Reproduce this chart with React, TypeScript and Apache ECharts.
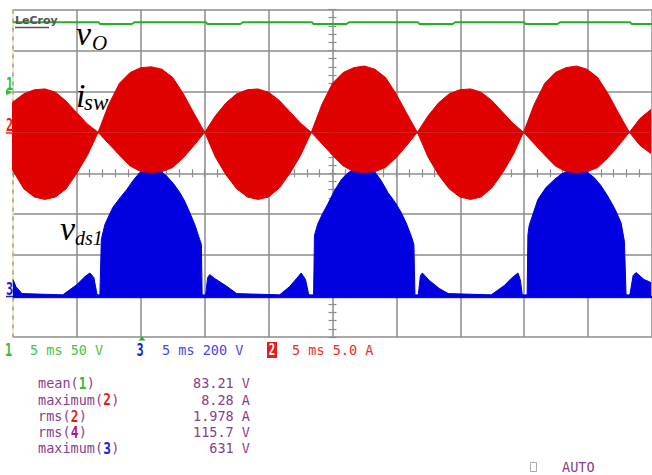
import React, { useEffect, useRef } from "react";
import * as echarts from "echarts";

// ---------------- data read from the scope screen ----------------
// time axis: 10 div x 5 ms
const timeDivisions = [0, 5, 10, 15, 20, 25, 30, 35, 40, 45, 50];

// channel 1 (v_O), volts, 50 V/div, ground at +2 div
const greenTrace: [number, number][] = [
  [0, 84.3], [6.7, 84.3], [6.8, 82.3], [9.3, 82.3], [9.5, 84.4], [15.1, 84.4], [15.2, 82.3],
  [17.8, 82.3], [18.0, 84.4], [23.4, 84.4], [23.5, 82.3], [26.1, 82.3], [26.3, 84.4],
  [31.7, 84.4], [31.8, 82.3], [34.4, 82.3], [34.6, 84.4], [40.0, 84.4], [40.1, 82.3],
  [42.6, 82.3], [42.8, 84.4], [48.3, 84.4], [48.4, 82.3], [50, 82.3],
];

// channel 2 (i_sw) switching-current envelope, amps, 5 A/div, ground at +1 div
const redTime = [
  -1.66, -0.83, 0, 0.84, 1.67, 2.5, 3.33, 4.16, 4.99, 5.83, 6.66,
  7.49, 8.33, 9.16, 10.0, 10.83, 11.66, 12.5, 13.33, 14.17, 15.0,
  15.83, 16.67, 17.5, 18.34, 19.17, 20.0, 20.84, 21.67, 22.51, 23.34,
  24.17, 25.0, 25.83, 26.66, 27.49, 28.32, 29.15, 29.98, 30.81, 31.64,
  32.47, 33.3, 34.13, 34.96, 35.8, 36.63, 37.46, 38.29, 39.12, 39.95,
  40.78, 41.61, 42.43, 43.26, 44.09, 44.92, 45.75, 46.57, 47.4, 48.23,
  49.06, 49.92,
];
const redUpper = [
  0, 2.0, 3.7, 4.7, 5.2, 5.3, 4.9, 3.8, 2.4, 1.0, 0,
  3.4, 6.0, 7.3, 7.9, 8.0, 7.7, 6.7, 4.7, 2.3, 0,
  2.0, 3.6, 4.7, 5.2, 5.3, 4.9, 3.9, 2.5, 1.1, 0,
  3.4, 6.0, 7.3, 7.9, 8.1, 7.7, 6.7, 4.7, 2.3, 0,
  2.0, 3.6, 4.7, 5.2, 5.3, 4.9, 3.9, 2.5, 1.1, 0,
  3.4, 6.0, 7.3, 7.9, 8.1, 7.7, 6.7, 4.7, 2.3, 0,
  1.7, 2.8,
];
const redLower = [
  0, -3.0, -4.7, -6.9, -7.9, -8.2, -7.9, -6.9, -5.0, -2.8, 0,
  -1.4, -2.8, -4.1, -4.8, -4.9, -4.8, -4.3, -3.1, -1.6, 0,
  -3.0, -5.2, -6.9, -7.9, -8.2, -7.9, -6.8, -5.0, -2.8, 0,
  -1.4, -2.8, -4.1, -4.8, -4.9, -4.8, -4.3, -3.1, -1.6, 0,
  -3.0, -5.2, -6.9, -7.9, -8.2, -7.9, -6.8, -5.0, -2.8, 0,
  -1.4, -2.8, -4.1, -4.8, -4.9, -4.8, -4.3, -3.1, -1.6, 0,
  -1.6, -2.6,
];

// channel 3 (v_ds1) envelope, volts, 200 V/div, ground at -3 div
const blueTrace: [number, number][] = [
  [0, 81], [0.23, 46], [0.7, 12], [3.9, 6], [5.0, 56], [5.63, 95], [6.02, 113], [6.33, 90],
  [6.56, 12], [6.64, 5], [6.8, 6], [6.91, 276], [7.19, 350], [7.81, 433], [8.4, 482], [8.91, 521],
  [9.4, 565], [9.92, 604], [10.3, 620], [10.7, 627], [11.1, 623], [11.48, 614], [12.03, 586],
  [12.55, 550], [13.05, 506], [13.45, 462], [13.83, 408], [14.25, 345],
  [14.61, 276], [14.74, 252], [14.8, 6], [15.0, 5], [15.08, 10], [15.23, 90], [15.39, 105],
  [15.78, 86], [16.72, 48], [17.5, 12], [20.86, 6], [21.64, 46], [22.19, 86], [22.55, 113],
  [22.89, 81], [23.12, 12], [23.24, 5], [23.52, 6], [23.59, 296], [23.83, 350], [24.2, 400],
  [24.61, 447], [25.15, 515], [25.7, 570], [26.1, 596], [26.48, 614], [26.95, 624], [27.4, 627],
  [27.85, 622], [28.28, 609], [28.8, 565], [29.35, 505], [29.9, 458], [30.39, 407], [30.8, 352],
  [31.17, 292], [31.37, 252], [31.45, 6], [31.64, 5], [31.72, 10], [31.88, 100], [32.03, 113],
  [32.58, 76], [33.36, 37], [34.06, 12], [37.42, 6], [38.44, 51], [38.98, 86], [39.51, 113],
  [39.69, 81], [39.84, 12], [39.95, 5], [40.23, 6], [40.29, 300], [40.39, 345], [41.07, 472],
  [41.7, 530], [42.37, 570], [42.9, 596], [43.41, 610], [43.8, 622], [44.2, 627], [44.8, 612],
  [45.49, 578], [46.0, 540], [46.54, 488], [47.1, 425], [47.58, 358],
  [47.84, 268], [47.97, 6], [48.23, 5], [48.28, 10], [48.52, 100], [48.75, 115], [49.38, 81],
  [49.92, 66],
];
const blueFloor: [number, number][] = [[0, -8], [50, -8]];

// settings + measurements
const channelSettings = ["5 ms 50 V", "5 ms 200 V", "5 ms 5.0 A"];
const measureNames = ["mean(", "maximum(", "rms(", "rms(", "maximum("];
const measureChannels = ["1", "2", "2", "4", "3"];
const measureValues = ["83.21 V", "8.28 A", "1.978 A", "115.7 V", "631 V"];

// ---------------- styling ----------------
const GRID = "#8c8c8c";
const RED = "#e00000";
const BLUE = "#0000e0";
const GREEN = "#1fb41f";
const PURPLE = "#8b3d8b";
const MONO = '"DejaVu Sans Mono", monospace';
const SERIF = '"Liberation Serif", "Times New Roman", serif';
const chColor: Record<string, string> = { "1": "#2fbf2f", "2": "#e81c1c", "3": "#1c1ce8", "4": "#a0189a" };

const hidden = {
  axisLine: { show: false, onZero: false },
  axisTick: { show: false },
  axisLabel: { show: false },
  splitLine: { show: false },
};

function txt(text: string, x: number, y: number, fill: string, font: string, align = "left", extra: any = {}) {
  return {
    type: "text",
    x,
    y,
    z: 100,
    silent: true,
    ...extra,
    style: { text, fill, font, align, verticalAlign: "middle" },
  };
}

function buildGraphic() {
  const g: any[] = [];
  // LeCroy logo
  g.push(txt("LeCroy", 15, 20, "#555", 'bold 11px "DejaVu Sans"'));
  g.push({ type: "line", z: 100, silent: true, shape: { x1: 15, y1: 27.5, x2: 49, y2: 27.5 }, style: { stroke: "#555", lineWidth: 1.5 } });

  // trace names
  g.push(txt("v", 76, 33.5, "#000", `italic 34px ${SERIF}`));
  g.push(txt("O", 92, 43, "#000", `italic 21px ${SERIF}`));
  g.push(txt("i", 76, 95, "#000", `italic 34px ${SERIF}`));
  g.push(txt("sw", 84, 102, "#000", `italic 23px ${SERIF}`));
  g.push(txt("v", 60, 228.5, "#000", `italic 34px ${SERIF}`));
  g.push(txt("ds1", 75, 238, "#000", `italic 20px ${SERIF}`));

  // channel ground markers on the left
  g.push(txt("1", 9.5, 84, chColor["1"], `bold 17px ${MONO}`, "center", { scaleX: 0.7 }));
  g.push({ type: "polygon", z: 100, silent: true, shape: { points: [[6, 89.5], [13, 92.3], [6, 95]] }, style: { fill: chColor["1"] } });
  g.push(txt("2", 9.5, 125, chColor["2"], `bold 17px ${MONO}`, "center", { scaleX: 0.7 }));
  g.push({ type: "line", z: 100, silent: true, shape: { x1: 6, y1: 133, x2: 13, y2: 133 }, style: { stroke: chColor["2"], lineWidth: 1.5 } });
  g.push(txt("3", 9.5, 288.5, chColor["3"], `bold 17px ${MONO}`, "center", { scaleX: 0.7 }));
  g.push({ type: "line", z: 100, silent: true, shape: { x1: 6, y1: 296.5, x2: 13, y2: 296.5 }, style: { stroke: chColor["3"], lineWidth: 1.5 } });

  // trigger marker
  g.push({ type: "polygon", z: 100, silent: true, shape: { points: [[138.5, 340.5], [145.5, 340.5], [142, 336.5]] }, style: { fill: "#1fb41f" } });

  // channel settings row
  const rowY = 350;
  g.push(txt("1", 8.5, rowY, chColor["1"], `bold 17px ${MONO}`, "center", { scaleX: 0.7 }));
  g.push(txt(channelSettings[0], 30, rowY, "#45c445", `13.5px ${MONO}`));
  g.push(txt("3", 140, rowY, chColor["3"], `bold 17px ${MONO}`, "center", { scaleX: 0.7 }));
  g.push(txt(channelSettings[1], 162, rowY, "#4646ee", `13.5px ${MONO}`));
  g.push({ type: "rect", z: 100, silent: true, shape: { x: 267, y: 342, width: 10, height: 16 }, style: { fill: "#e81c1c" } });
  g.push(txt("2", 272, rowY, "#fff", `bold 15px ${MONO}`, "center", { scaleX: 0.7 }));
  g.push(txt(channelSettings[2], 292, rowY, "#ee2a2a", `13.5px ${MONO}`));

  // measurements
  const cw = 8.13;
  const rowsY = [383, 399.5, 416, 432, 448];
  measureNames.forEach((name, i) => {
    const y = rowsY[i];
    const x0 = 38;
    g.push(txt(name, x0, y, PURPLE, `13.5px ${MONO}`));
    const cx = x0 + name.length * cw + cw / 2;
    g.push(txt(measureChannels[i], cx, y, chColor[measureChannels[i]], `bold 16px ${MONO}`, "center", { scaleX: 0.8 }));
    g.push(txt(")", x0 + (name.length + 1) * cw, y, PURPLE, `13.5px ${MONO}`));
    g.push(txt(measureValues[i], 250, y, PURPLE, `13.5px ${MONO}`, "right"));
  });

  // AUTO
  g.push({ type: "rect", z: 100, silent: true, shape: { x: 530.5, y: 462.5, width: 6, height: 9 }, style: { fill: "none", stroke: "#aaa", lineWidth: 1 } });
  g.push(txt("AUTO", 562, 467, PURPLE, `13.5px ${MONO}`));
  return g;
}

function buildOption(): any {
  const redUpperData = redTime.map((t, i) => [t, redUpper[i]]);
  const redLowerData = redTime.map((t, i) => [t, redLower[i]]);
  const tMin = timeDivisions[0];
  const tMax = timeDivisions[timeDivisions.length - 1];
  return {
    animation: false,
    backgroundColor: "#fff",
    grid: { left: 13, top: 9.5, width: 640, height: 327.5 },
    xAxis: [
      {
        type: "value", position: "bottom", min: tMin, max: tMax, interval: 5,
        ...hidden,
        splitLine: { show: true, showMinLine: false, lineStyle: { color: GRID, width: 1.5 } },
      },
      {
        type: "value", position: "bottom", min: tMin, max: tMax, interval: 1,
        axisLine: { show: false, onZero: true, onZeroAxisIndex: 0 },
        axisTick: { show: true, length: 4, inside: false, lineStyle: { color: GRID, width: 1.2 } },
        axisLabel: { show: false }, splitLine: { show: false },
      },
      {
        type: "value", position: "bottom", min: tMin, max: tMax, interval: 1,
        axisLine: { show: false, onZero: true, onZeroAxisIndex: 0 },
        axisTick: { show: true, length: 4, inside: true, lineStyle: { color: GRID, width: 1.2 } },
        axisLabel: { show: false }, splitLine: { show: false },
      },
      { type: "value", position: "bottom", min: -25, max: 25, show: false, ...hidden },
    ],
    yAxis: [
      {
        type: "value", position: "left", min: -4, max: 4, interval: 1,
        axisLine: { show: true, onZero: false, lineStyle: { color: "#ebe39a", width: 1.5 } },
        axisTick: { show: false }, axisLabel: { show: false },
        splitLine: { show: true, lineStyle: { color: GRID, width: 1.5 } },
      },
      {
        type: "value", position: "left", min: -4, max: 4, interval: 1,
        axisLine: { show: true, onZero: false, lineStyle: { color: "#a0a0a0", width: 1.5, type: [3, 6] } },
        axisTick: { show: false }, axisLabel: { show: false }, splitLine: { show: false },
      },
      {
        type: "value", position: "left", min: -4, max: 4, interval: 0.2,
        axisLine: { show: false, onZero: true, onZeroAxisIndex: 3 },
        axisTick: { show: true, length: 4, inside: false, lineStyle: { color: GRID, width: 1.2 } },
        axisLabel: { show: false }, splitLine: { show: false },
      },
      {
        type: "value", position: "left", min: -4, max: 4, interval: 0.2,
        axisLine: { show: false, onZero: true, onZeroAxisIndex: 3 },
        axisTick: { show: true, length: 4, inside: true, lineStyle: { color: GRID, width: 1.2 } },
        axisLabel: { show: false }, splitLine: { show: false },
      },
      { type: "value", position: "left", min: -300, max: 100, show: false, ...hidden },
      { type: "value", position: "left", min: -25, max: 15, show: false, ...hidden },
      { type: "value", position: "left", min: -200, max: 1400, show: false, ...hidden },
    ],
    series: [
      {
        type: "line", name: "vds1", xAxisIndex: 0, yAxisIndex: 6, data: blueTrace, symbol: "none",
        lineStyle: { color: BLUE, width: 1 }, areaStyle: { color: BLUE, opacity: 1 }, z: 3,
      },
      {
        type: "line", name: "vds1 floor", xAxisIndex: 0, yAxisIndex: 6, data: blueFloor, symbol: "none",
        lineStyle: { color: BLUE, width: 1 }, areaStyle: { color: BLUE, opacity: 1 }, z: 3,
      },
      {
        type: "line", name: "isw+", xAxisIndex: 0, yAxisIndex: 5, data: redUpperData, symbol: "none",
        lineStyle: { color: RED, width: 1 }, areaStyle: { color: RED, opacity: 1 }, z: 4,
      },
      {
        type: "line", name: "isw-", xAxisIndex: 0, yAxisIndex: 5, data: redLowerData, symbol: "none",
        lineStyle: { color: RED, width: 1 }, areaStyle: { color: RED, opacity: 1 }, z: 4,
      },
      {
        type: "line", name: "vO", xAxisIndex: 0, yAxisIndex: 4, data: greenTrace, symbol: "none",
        lineStyle: { color: GREEN, width: 2 }, z: 5,
      },
    ],
    graphic: buildGraphic(),
  };
}

export default function App() {
  const ref = useRef<HTMLDivElement>(null);
  useEffect(() => {
    if (!ref.current) return;
    const chart = echarts.init(ref.current, null, { renderer: "svg" });
    chart.setOption(buildOption());
    return () => chart.dispose();
  }, []);
  return (
    <div
      ref={ref}
      style={{ position: "absolute", left: 0, top: 0, width: 652, height: 475, background: "#fff" }}
    />
  );
}
